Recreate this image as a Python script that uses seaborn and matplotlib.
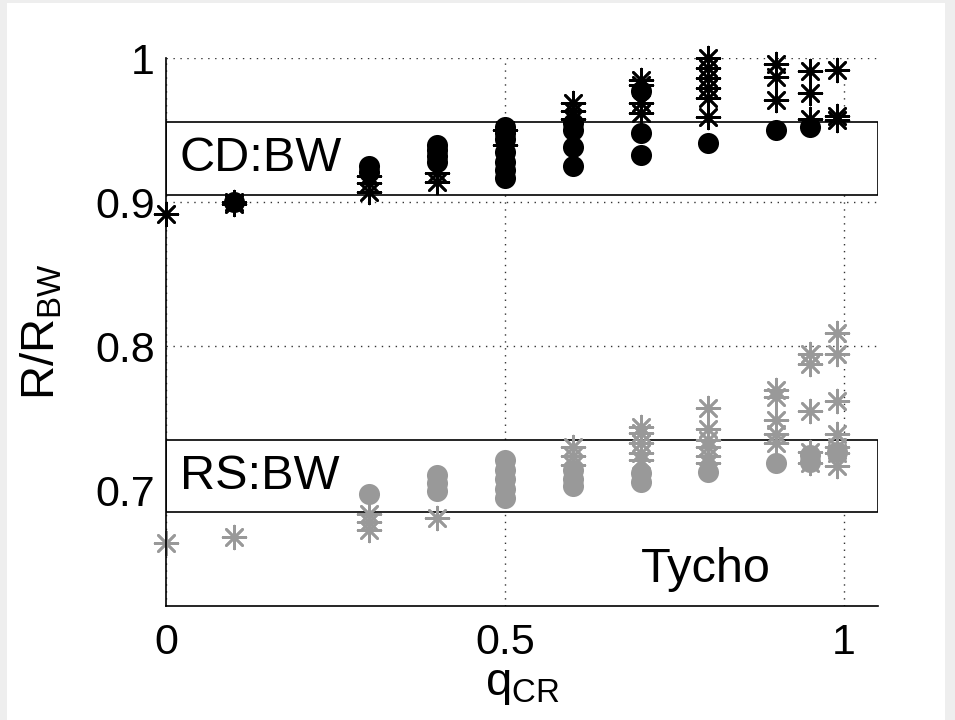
import matplotlib
matplotlib.use("Agg")
import matplotlib.pyplot as plt
from matplotlib.patches import Rectangle
import seaborn as sns
import pandas as pd

# ---- data ----
cd_circle_q = [0.1, 0.3, 0.3, 0.4, 0.4, 0.4, 0.4,
               0.5, 0.5, 0.5, 0.5, 0.5, 0.5, 0.5,
               0.6, 0.6, 0.6, 0.6, 0.7, 0.7, 0.7, 0.8, 0.9, 0.95]
cd_circle_r = [0.900, 0.925, 0.921, 0.940, 0.936, 0.932, 0.928,
               0.952, 0.948, 0.944, 0.935, 0.928, 0.922, 0.917,
               0.955, 0.950, 0.938, 0.925, 0.977, 0.948, 0.933, 0.941, 0.950, 0.952]

cd_star_q = [0.0, 0.1, 0.1, 0.3, 0.3, 0.3, 0.4, 0.4, 0.5, 0.5,
             0.6, 0.6, 0.6, 0.7, 0.7, 0.7, 0.7,
             0.8, 0.8, 0.8, 0.8, 0.8, 0.8,
             0.9, 0.9, 0.9, 0.95, 0.95, 0.95, 0.99, 0.99, 0.99]
cd_star_r = [0.892, 0.899, 0.900, 0.918, 0.913, 0.907, 0.920, 0.914, 0.950, 0.940,
             0.969, 0.963, 0.958, 0.985, 0.981, 0.969, 0.962,
             1.000, 0.993, 0.986, 0.979, 0.972, 0.959,
             0.996, 0.987, 0.971, 0.991, 0.976, 0.958, 0.992, 0.960, 0.957]

rs_circle_q = [0.3, 0.4, 0.4, 0.4, 0.5, 0.5, 0.5, 0.5, 0.5,
               0.6, 0.6, 0.6, 0.7, 0.7, 0.8, 0.9, 0.95, 0.95, 0.99]
rs_circle_r = [0.698, 0.711, 0.705, 0.700, 0.721, 0.714, 0.708, 0.701, 0.695,
               0.714, 0.708, 0.703, 0.712, 0.706, 0.713, 0.719, 0.725, 0.720, 0.727]

rs_star_q = [0.0, 0.1, 0.3, 0.3, 0.3, 0.4,
             0.6, 0.6, 0.6, 0.7, 0.7, 0.7, 0.7, 0.7,
             0.8, 0.8, 0.8, 0.8, 0.8, 0.8,
             0.9, 0.9, 0.9, 0.9, 0.9,
             0.95, 0.95, 0.95, 0.95, 0.95,
             0.99, 0.99, 0.99, 0.99, 0.99, 0.99, 0.99]
rs_star_r = [0.664, 0.668, 0.684, 0.678, 0.673, 0.681,
             0.730, 0.724, 0.718, 0.744, 0.740, 0.733, 0.726, 0.721,
             0.757, 0.743, 0.735, 0.730, 0.724, 0.719,
             0.770, 0.765, 0.749, 0.739, 0.733,
             0.795, 0.788, 0.755, 0.727, 0.719,
             0.809, 0.795, 0.762, 0.739, 0.730, 0.726, 0.717]

# bands (lower, upper) of the BW ratios
cd_band = [0.905, 0.9556]
rs_band = [0.6855, 0.735]

x_ticks = [0, 0.5, 1]
x_tick_labels = ["0", "0.5", "1"]
y_ticks = [0.7, 0.8, 0.9, 1.0]
y_tick_labels = ["0.7", "0.8", "0.9", "1"]

# ---- styling ----
sns.set_theme(style="white")
plt.rcParams["font.family"] = ["Liberation Sans", "DejaVu Sans"]
plt.rcParams["mathtext.fontset"] = "custom"
plt.rcParams["mathtext.rm"] = "Liberation Sans"
plt.rcParams["mathtext.it"] = "Liberation Sans"
plt.rcParams["text.color"] = "black"
plt.rcParams["axes.labelcolor"] = "black"
plt.rcParams["xtick.color"] = "black"
plt.rcParams["ytick.color"] = "black"

fig = plt.figure(figsize=(9.55, 7.2), dpi=100)
fig.patch.set_facecolor("#eeeeee")
fig.patches.append(Rectangle((7 / 955, 0), 938 / 955, 1 - 3 / 720,
                             transform=fig.transFigure, facecolor="white",
                             edgecolor="none", zorder=-10))
ax = fig.add_axes([166 / 955, 1 - 606 / 720, (878 - 166) / 955, (606 - 58) / 720])
ax.set_zorder(1)
ax.set_facecolor("none")

gray = (0.6, 0.6, 0.6)
star = (8, 2, 0)

def frame(q, r, group, kind):
    return pd.DataFrame({"q": q, "r": r, "group": group, "kind": kind})

df = pd.concat([
    frame(cd_circle_q, cd_circle_r, "CD", "circle"),
    frame(cd_star_q, cd_star_r, "CD", "star"),
    frame(rs_circle_q, rs_circle_r, "RS", "circle"),
    frame(rs_star_q, rs_star_r, "RS", "star"),
], ignore_index=True)

colors = {"CD": "black", "RS": gray}
for (g, k), sub in df.groupby(["group", "kind"]):
    if k == "circle":
        sns.scatterplot(data=sub, x="q", y="r", ax=ax, color=colors[g], marker="o",
                        s=230, edgecolor=colors[g], linewidth=0, zorder=3, clip_on=False)
    else:
        sns.scatterplot(data=sub, x="q", y="r", ax=ax, color=colors[g], marker=star,
                        s=270, linewidth=1.9, zorder=4, clip_on=False)

# bands
xmin, xmax = 0, 1.05
for lo, hi in (cd_band, rs_band):
    ax.add_patch(Rectangle((xmin, lo), xmax - xmin, hi - lo, facecolor="white",
                           edgecolor="black", linewidth=1.2, zorder=2))

ax.text(0.02, (cd_band[0] + cd_band[1]) / 2, "CD:BW", fontsize=35, va="center", ha="left", zorder=5)
ax.text(0.02, (rs_band[0] + rs_band[1]) / 2 - 0.0005, "RS:BW", fontsize=35, va="center", ha="left", zorder=5)
ax.text(0.70, 0.6368, "Tycho", fontsize=35, va="baseline", ha="left", zorder=5)

ax.set_xlim(xmin, xmax)
ax.set_ylim(0.62, 1.0)
ax.set_xticks(x_ticks)
ax.set_xticklabels(x_tick_labels)
ax.set_yticks(y_ticks)
ax.set_yticklabels(y_tick_labels)
ax.grid(True, linestyle=(0, (1, 4)), color="#333333", linewidth=1.0, zorder=1)
ax.set_axisbelow(True)
ax.tick_params(axis="both", direction="in", length=5, width=1, labelsize=31, colors="black")
ax.tick_params(axis="x", pad=12)
ax.tick_params(axis="y", pad=8)
for s in ("top", "right"):
    ax.spines[s].set_visible(False)
for s in ("left", "bottom"):
    ax.spines[s].set_color("black")
    ax.spines[s].set_linewidth(1.2)
    ax.spines[s].set_zorder(6)

ax.set_xlabel(r"q$_{\rm CR}$", fontsize=34, labelpad=0)
ax.set_ylabel(r"R/R$_{\rm BW}$", fontsize=34, labelpad=22)

fig.savefig("out.png", dpi=100, facecolor=fig.get_facecolor())
